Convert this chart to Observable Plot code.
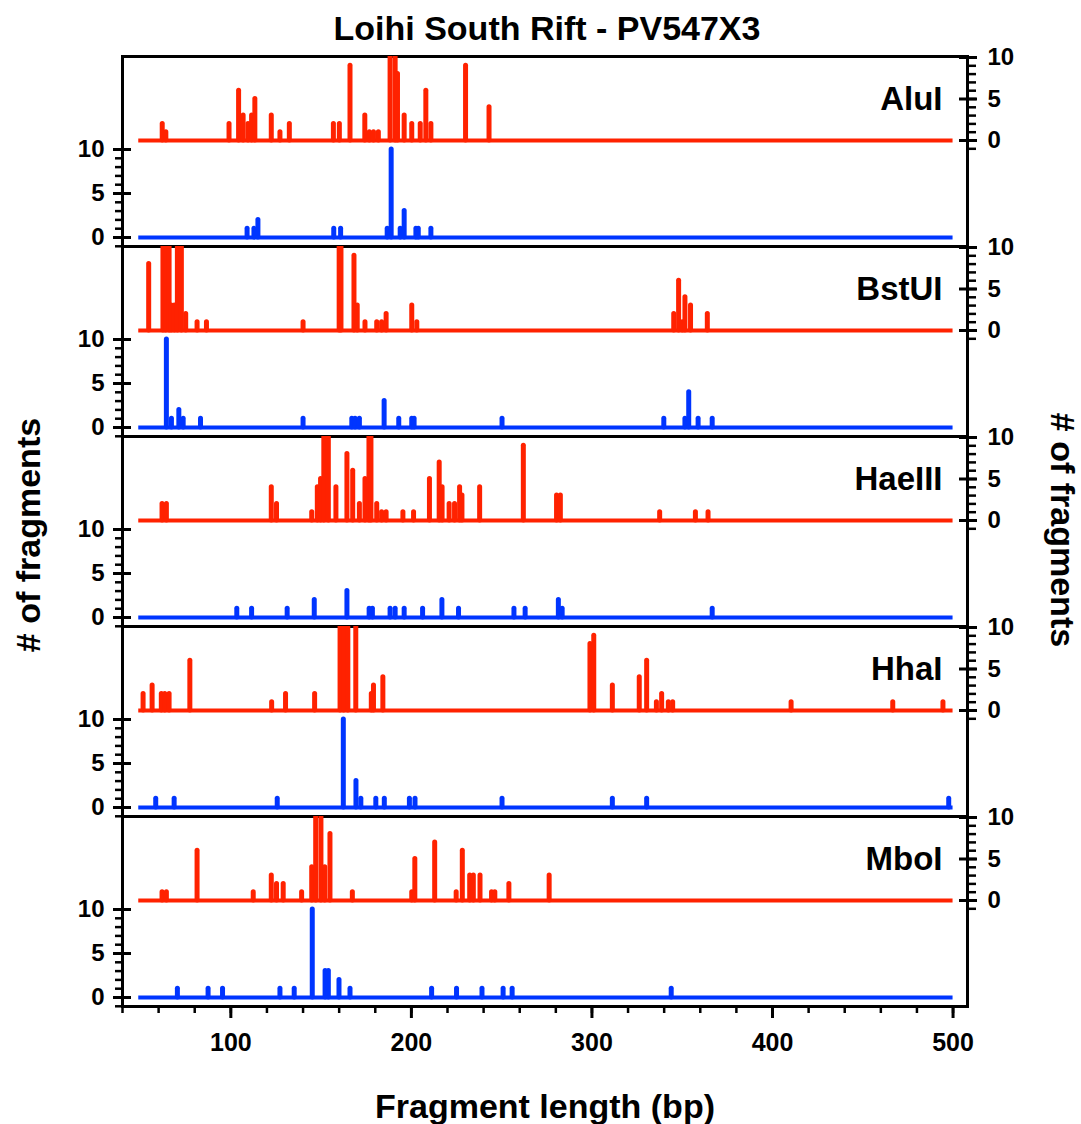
<!DOCTYPE html>
<html>
<head>
<meta charset="utf-8">
<script src="https://cdn.jsdelivr.net/npm/d3@7"></script>
<script src="https://cdn.jsdelivr.net/npm/@observablehq/plot@0.6"></script>
<style>
  html, body { margin: 0; padding: 0; background: #fff; }
  #chart { position: relative; width: 1081px; height: 1124px; background: #fff; overflow: hidden;
           font-family: "Liberation Sans", Arial, sans-serif; font-weight: bold; color: #000; }
  .panel { position: absolute; left: 0; width: 1081px; }
  .panel svg { position: absolute; left: 0; top: 0; overflow: visible; }
  .lbl { position: absolute; text-align: center; white-space: nowrap; }
</style>
</head>
<body>
<div id="chart">
  <div class="lbl" id="title" style="left:0;top:8px;width:1094px;font-size:34px;line-height:40px;">Loihi South Rift - PV547X3</div>
  <div class="lbl" id="xtitle" style="left:0;top:1086px;width:1090px;font-size:34px;line-height:40px;">Fragment length (bp)</div>
  <div class="lbl" id="ytitleL" style="left:-172px;top:515px;width:400px;font-size:34px;line-height:40px;transform:rotate(-90deg);"># of fragments</div>
  <div class="lbl" id="ytitleR" style="left:863px;top:510px;width:400px;font-size:34px;line-height:40px;transform:rotate(90deg);"># of fragments</div>
</div>
<script>
// ---------------- data ----------------
const enzymes = ["AluI", "BstUI", "HaeIII", "HhaI", "MboI"];
const traceRange = [49, 500];              // bp range of each trace baseline
const xMajorTicks = [100, 200, 300, 400, 500];
const xMinorTicks = [40, 60, 80, 100, 120, 140, 160, 180, 200, 220, 240, 260, 280, 300, 320, 340, 360, 380, 400, 420, 440, 460, 480, 500];
const yMajorTicks = [0, 5, 10];
const yMinorTicks = [-1, 0, 1, 2, 3, 4, 5, 6, 7, 8, 9, 10];

// peaks: [fragment length (bp), # of fragments]
const aluI_red = [[62,2],[64,1],[99,2],[104.3,6],[106.8,3],[109.5,2],[111.5,3],[113.3,5],[122.4,3],[127.2,1],[132.4,2],[156.8,2],[160.1,2],[166,9],[174.2,3],[176.7,1],[179,1],[181.7,1],[188.2,11],[191,11],[192.3,8],[196,3],[200.2,2],[204.9,2],[208,6],[210.8,2],[230,9],[243,4]];
const aluI_blue = [[109,1],[112.8,1],[115,2],[157,1],[160.8,1],[186.6,1],[188.8,10],[193.8,1],[196,3],[202.5,1],[203.8,1],[210.8,1]];

const bstUI_red = [[54.5,8],[62.4,11],[63.9,11],[65.8,11],[67,3],[68.7,3],[70.4,11],[72.6,11],[75,2],[81.3,1],[86.5,1],[140,1],[160,11],[161,11],[168.2,9],[170,3],[174.3,1],[180.8,1],[183.5,1],[186,2],[200.2,3],[203,1],[345.3,2],[348,6],[350,1],[351.5,4],[354.6,3],[363.9,2]];
const bstUI_blue = [[64.3,10],[67.1,1],[71.2,2],[73.6,1],[83.2,1],[140,1],[167,1],[168.8,1],[171.2,1],[184.9,3],[193,1],[200.2,1],[201.5,1],[250.2,1],[339.8,1],[351.5,1],[353.6,4],[358.8,1],[366.6,1]];

const haeIII_red = [[61.9,2],[64.3,2],[122.4,4],[125.3,2],[144.8,1],[147.9,4],[149.7,5],[151.5,11],[154,11],[158.2,4],[164.3,8],[167.5,6],[171.2,2],[174.3,5],[176.5,11],[177.6,11],[180.8,2],[183.5,1],[186,1],[195.3,1],[201.2,1],[210,5],[215.4,7],[217,4],[220.9,2],[223.9,2],[226.7,4],[228,3],[237.8,4],[262,9],[280.4,3],[282.5,3],[337.5,1],[357.3,1],[364.3,1]];
const haeIII_blue = [[103.3,1],[111.5,1],[131.2,1],[146.2,2],[164.3,3],[176.6,1],[178.4,1],[188.2,1],[191,1],[196,1],[206.2,1],[216.9,2],[226.1,1],[256.8,1],[263,1],[281.4,2],[283.5,1],[366.6,1]];

const hhaI_red = [[51.4,2],[56.4,3],[61.5,2],[63.4,2],[65.8,2],[77.3,6],[122.6,1],[130.3,2],[146.4,2],[160.5,11],[162.5,11],[164.8,11],[169.2,11],[177.8,2],[179,3],[184.2,4],[298.9,8],[301,9],[311.3,3],[326.2,4],[330.3,6],[335.7,1],[338.6,2],[342.3,1],[344.7,1],[410.3,1],[466.6,1],[494.4,1]];
const hhaI_blue = [[58.4,1],[68.6,1],[125.7,1],[162.3,10],[169.3,3],[172,1],[180.3,1],[185,1],[198.9,1],[202,1],[250.2,1],[311.3,1],[330.3,1],[497.6,1]];

const mboI_red = [[61.9,1],[64.3,1],[81.3,6],[112.4,1],[122.4,3],[125.3,2],[129,2],[139.2,1],[144.8,4],[147,11],[149.9,11],[152,4],[154.9,8],[167.3,1],[200.2,1],[201.9,5],[212.9,7],[224.8,1],[228.2,6],[232.3,3],[234.3,3],[238,3],[244.4,1],[246.2,1],[254,2],[276.3,3]];
const mboI_blue = [[70.4,1],[87.4,1],[95.4,1],[127.2,1],[135.1,1],[145.1,10],[152.2,3],[154,3],[159.9,2],[166,1],[211.2,1],[225,1],[239.1,1],[250.8,1],[255.8,1],[343.9,1]];

const redSeries = [aluI_red, bstUI_red, haeIII_red, hhaI_red, mboI_red];
const blueSeries = [aluI_blue, bstUI_blue, haeIII_blue, hhaI_blue, mboI_blue];

// ---------------- layout / style ----------------
const RED = "#ff2200";
const BLUE = "#0035ff";
const W = 1081, ML = 122, MR = 114, PANEL_TOP = 56, PANEL_H = 190, XAXIS_H = 120;
const xDomain = [40, 508];
const FONT = "Liberation Sans, Arial, sans-serif";
const svgStyle = {background: "transparent", overflow: "visible", fontFamily: FONT, color: "black"};

const chart = document.getElementById("chart");

enzymes.forEach((name, i) => {
  const isLast = i === enzymes.length - 1;
  const div = document.createElement("div");
  div.className = "panel";
  div.style.top = (PANEL_TOP + i * PANEL_H) + "px";

  const blueMarks = [
    Plot.ruleY([0], {x1: traceRange[0], x2: traceRange[1], stroke: BLUE, strokeWidth: 4}),
    Plot.ruleX(blueSeries[i], {x: d => d[0], y1: 0, y2: d => d[1], stroke: BLUE, strokeWidth: 5, strokeLinecap: "round", clip: true}),
    Plot.frame({stroke: "black", strokeWidth: 3}),
    Plot.axisY(yMinorTicks, {anchor: "left", tickSize: 7, strokeWidth: 2.5, fill: "none", tickFormat: () => "", label: null}),
    Plot.axisY(yMajorTicks, {anchor: "left", tickSize: 18, dx: 9, strokeWidth: 3, fill: "none", tickFormat: () => "", label: null}),
    Plot.axisY(yMajorTicks, {anchor: "left", tickSize: 0, tickPadding: 18, stroke: "none", fontSize: 24, fontWeight: "bold", label: null})
  ];
  if (isLast) {
    blueMarks.push(
      Plot.axisX(xMinorTicks, {anchor: "bottom", tickSize: 7, strokeWidth: 2.5, fill: "none", tickFormat: () => "", label: null}),
      Plot.axisX(xMajorTicks, {anchor: "bottom", tickSize: 12, strokeWidth: 3, tickPadding: 15, fontSize: 25, fontWeight: "bold", label: null})
    );
  }

  const bluePlot = Plot.plot({
    width: W,
    height: isLast ? PANEL_H + XAXIS_H : PANEL_H,
    marginLeft: ML, marginRight: MR, marginTop: 0, marginBottom: isLast ? XAXIS_H : 0,
    style: svgStyle,
    x: isLast ? {domain: xDomain} : {domain: xDomain, axis: null},
    y: {domain: [0, 10], range: [181, 93]},
    marks: blueMarks
  });

  const redPlot = Plot.plot({
    width: W,
    height: PANEL_H,
    marginLeft: ML, marginRight: MR, marginTop: 0, marginBottom: 0,
    style: svgStyle,
    x: {domain: xDomain, axis: null},
    y: {domain: [0, 10], range: [84, 1]},
    marks: [
      Plot.ruleY([0], {x1: traceRange[0], x2: traceRange[1], stroke: RED, strokeWidth: 4}),
      Plot.ruleX(redSeries[i], {x: d => d[0], y1: 0, y2: d => d[1], stroke: RED, strokeWidth: 5, strokeLinecap: "round", clip: true}),
      Plot.axisY(yMinorTicks, {anchor: "right", tickSize: 8, strokeWidth: 2.5, fill: "none", tickFormat: () => "", label: null}),
      Plot.axisY(yMajorTicks, {anchor: "right", tickSize: 18, dx: -9, strokeWidth: 3, fill: "none", tickFormat: () => "", label: null}),
      Plot.axisY(yMajorTicks, {anchor: "right", tickSize: 0, tickPadding: 20, stroke: "none", fontSize: 24, fontWeight: "bold", label: null}),
      Plot.text([name], {frameAnchor: "top-right", text: d => d, textAnchor: "end", lineAnchor: "middle", dx: -25, dy: 43, fontSize: 33, fontWeight: "bold", fill: "black"})
    ]
  });

  div.appendChild(bluePlot);
  div.appendChild(redPlot);
  chart.appendChild(div);
});
</script>
</body>
</html>
